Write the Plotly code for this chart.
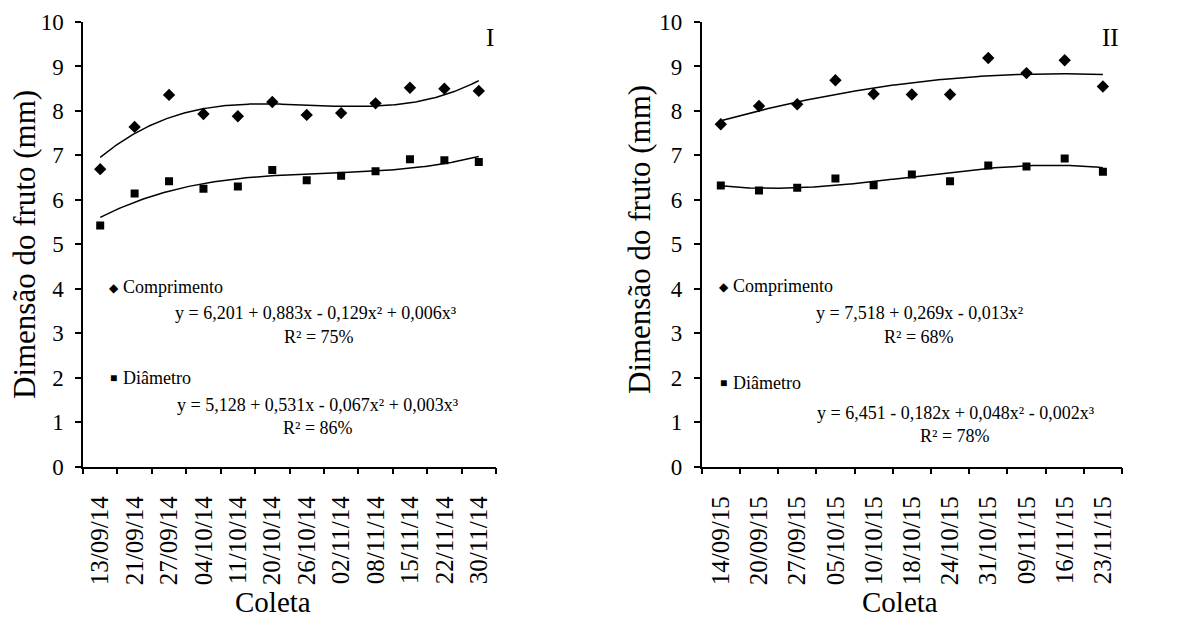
import numpy as np
import plotly.graph_objects as go

W, H = 1186, 621

# Coletas 2014 (painel I)
datas_2014 = ["13/09/14", "21/09/14", "27/09/14", "04/10/14", "11/10/14", "20/10/14",
              "26/10/14", "02/11/14", "08/11/14", "15/11/14", "22/11/14", "30/11/14"]
comp_2014 = [6.69, 7.64, 8.36, 7.93, 7.88, 8.20, 7.91, 7.95, 8.17, 8.52, 8.50, 8.45]
diam_2014 = [5.42, 6.14, 6.42, 6.25, 6.30, 6.67, 6.44, 6.54, 6.64, 6.91, 6.89, 6.85]

# Coletas 2015 (painel II)
datas_2015 = ["14/09/15", "20/09/15", "27/09/15", "05/10/15", "10/10/15", "18/10/15",
              "24/10/15", "31/10/15", "09/11/15", "16/11/15", "23/11/15"]
comp_2015 = [7.70, 8.11, 8.15, 8.69, 8.38, 8.37, 8.37, 9.19, 8.85, 9.14, 8.55]
diam_2015 = [6.32, 6.21, 6.27, 6.48, 6.33, 6.57, 6.42, 6.77, 6.75, 6.93, 6.63]

y_ticks = list(range(0, 11))

FONT = "Liberation Serif, Times New Roman, serif"
BLACK = "#000000"


def px(x):
    return x / W


def py(y):
    return 1 - y / H


def fit_curve(values, degree):
    """Polynomial trend line over the collection index 1..n."""
    x = np.arange(1, len(values) + 1)
    coef = np.polyfit(x, values, degree)
    xs = np.linspace(1, len(values), 300)
    return xs, np.polyval(coef, xs)


fig = go.Figure()

panels = [
    ("x", "y", datas_2014, comp_2014, diam_2014, 3, 3),
    ("x2", "y2", datas_2015, comp_2015, diam_2015, 2, 3),
]

for xa, ya, datas, comp, diam, deg_c, deg_d in panels:
    idx = np.arange(1, len(datas) + 1)
    for vals, deg in ((comp, deg_c), (diam, deg_d)):
        xs, ys = fit_curve(vals, deg)
        fig.add_trace(go.Scatter(x=xs, y=ys, mode="lines", xaxis=xa, yaxis=ya,
                                 line=dict(color=BLACK, width=1.5),
                                 showlegend=False, hoverinfo="skip"))
    fig.add_trace(go.Scatter(x=idx, y=comp, mode="markers", xaxis=xa, yaxis=ya,
                             name="Comprimento", showlegend=False,
                             marker=dict(symbol="diamond", size=9.5, color=BLACK)))
    fig.add_trace(go.Scatter(x=idx, y=diam, mode="markers", xaxis=xa, yaxis=ya,
                             name="Diâmetro", showlegend=False,
                             marker=dict(symbol="square", size=8, color=BLACK)))


def x_axis(domain, labels, anchor):
    n = len(labels)
    return dict(
        domain=domain, range=[0.5, n + 0.5], anchor=anchor, automargin=False,
        tickmode="array", tickvals=list(range(1, n + 1)), ticktext=labels,
        tickangle=-90, ticks="", ticklabelstandoff=18,
        tickfont=dict(family=FONT, size=25, color=BLACK),
        minor=dict(tickmode="linear", tick0=0.5, dtick=1, ticks="outside",
                   ticklen=6, tickwidth=1.5, tickcolor=BLACK, showgrid=False),
        showline=True, linecolor=BLACK, linewidth=1.5,
        showgrid=False, zeroline=False, fixedrange=True,
    )


def y_axis(domain, anchor):
    return dict(
        domain=domain, range=[0, 10], anchor=anchor, automargin=False,
        tickmode="array", tickvals=y_ticks, ticks="outside", ticklen=6,
        tickwidth=1.5, tickcolor=BLACK, ticklabelstandoff=7,
        tickfont=dict(family=FONT, size=23, color=BLACK),
        showline=True, linecolor=BLACK, linewidth=1.5,
        showgrid=False, zeroline=False, fixedrange=True,
    )


y_dom = [py(466.5), py(22)]

annotations = []


def text(x, y, s, size, xanchor="center", yanchor="middle", angle=0):
    annotations.append(dict(x=px(x), y=py(y), xref="paper", yref="paper", text=s,
                            showarrow=False, xanchor=xanchor, yanchor=yanchor,
                            textangle=angle,
                            font=dict(family=FONT, size=size, color=BLACK)))


# Painel I
text(490, 37, "I", 25)
text(25, 245, "Dimensão do fruto (mm)", 31, angle=-90)
text(273, 620, "Coleta", 29, yanchor="bottom")
text(114, 288, "◆", 12)
text(121, 287, "Comprimento", 18, xanchor="left")
text(316, 313, "y = 6,201 + 0,883x - 0,129x² + 0,006x³", 18)
text(319, 337, "R² = 75%", 18)
text(114, 378, "■", 12)
text(121, 378, "Diâmetro", 18, xanchor="left")
text(318, 405, "y = 5,128 + 0,531x - 0,067x² + 0,003x³", 18)
text(318, 428, "R² = 86%", 18)

# Painel II
text(1110, 37, "II", 25)
text(640, 240, "Dimensão do fruto (mm)", 31, angle=-90)
text(900, 620, "Coleta", 29, yanchor="bottom")
text(724, 287, "◆", 12)
text(731, 286, "Comprimento", 18, xanchor="left")
text(919, 313, "y = 7,518 + 0,269x - 0,013x²", 18)
text(919, 337, "R² = 68%", 18)
text(724, 383, "■", 12)
text(731, 383, "Diâmetro", 18, xanchor="left")
text(956, 413, "y = 6,451 - 0,182x + 0,048x² - 0,002x³", 18)
text(955, 436, "R² = 78%", 18)

fig.update_layout(
    width=W, height=H,
    margin=dict(l=0, r=0, t=0, b=0, autoexpand=False),
    paper_bgcolor="white", plot_bgcolor="white",
    showlegend=False,
    xaxis=x_axis([px(83), px(496)], datas_2014, "y"),
    yaxis=y_axis(y_dom, "x"),
    xaxis2=x_axis([px(701.7), px(1122)], datas_2015, "y2"),
    yaxis2=y_axis(y_dom, "x2"),
    annotations=annotations,
    font=dict(family=FONT, color=BLACK),
)

fig.write_html("out.html")
